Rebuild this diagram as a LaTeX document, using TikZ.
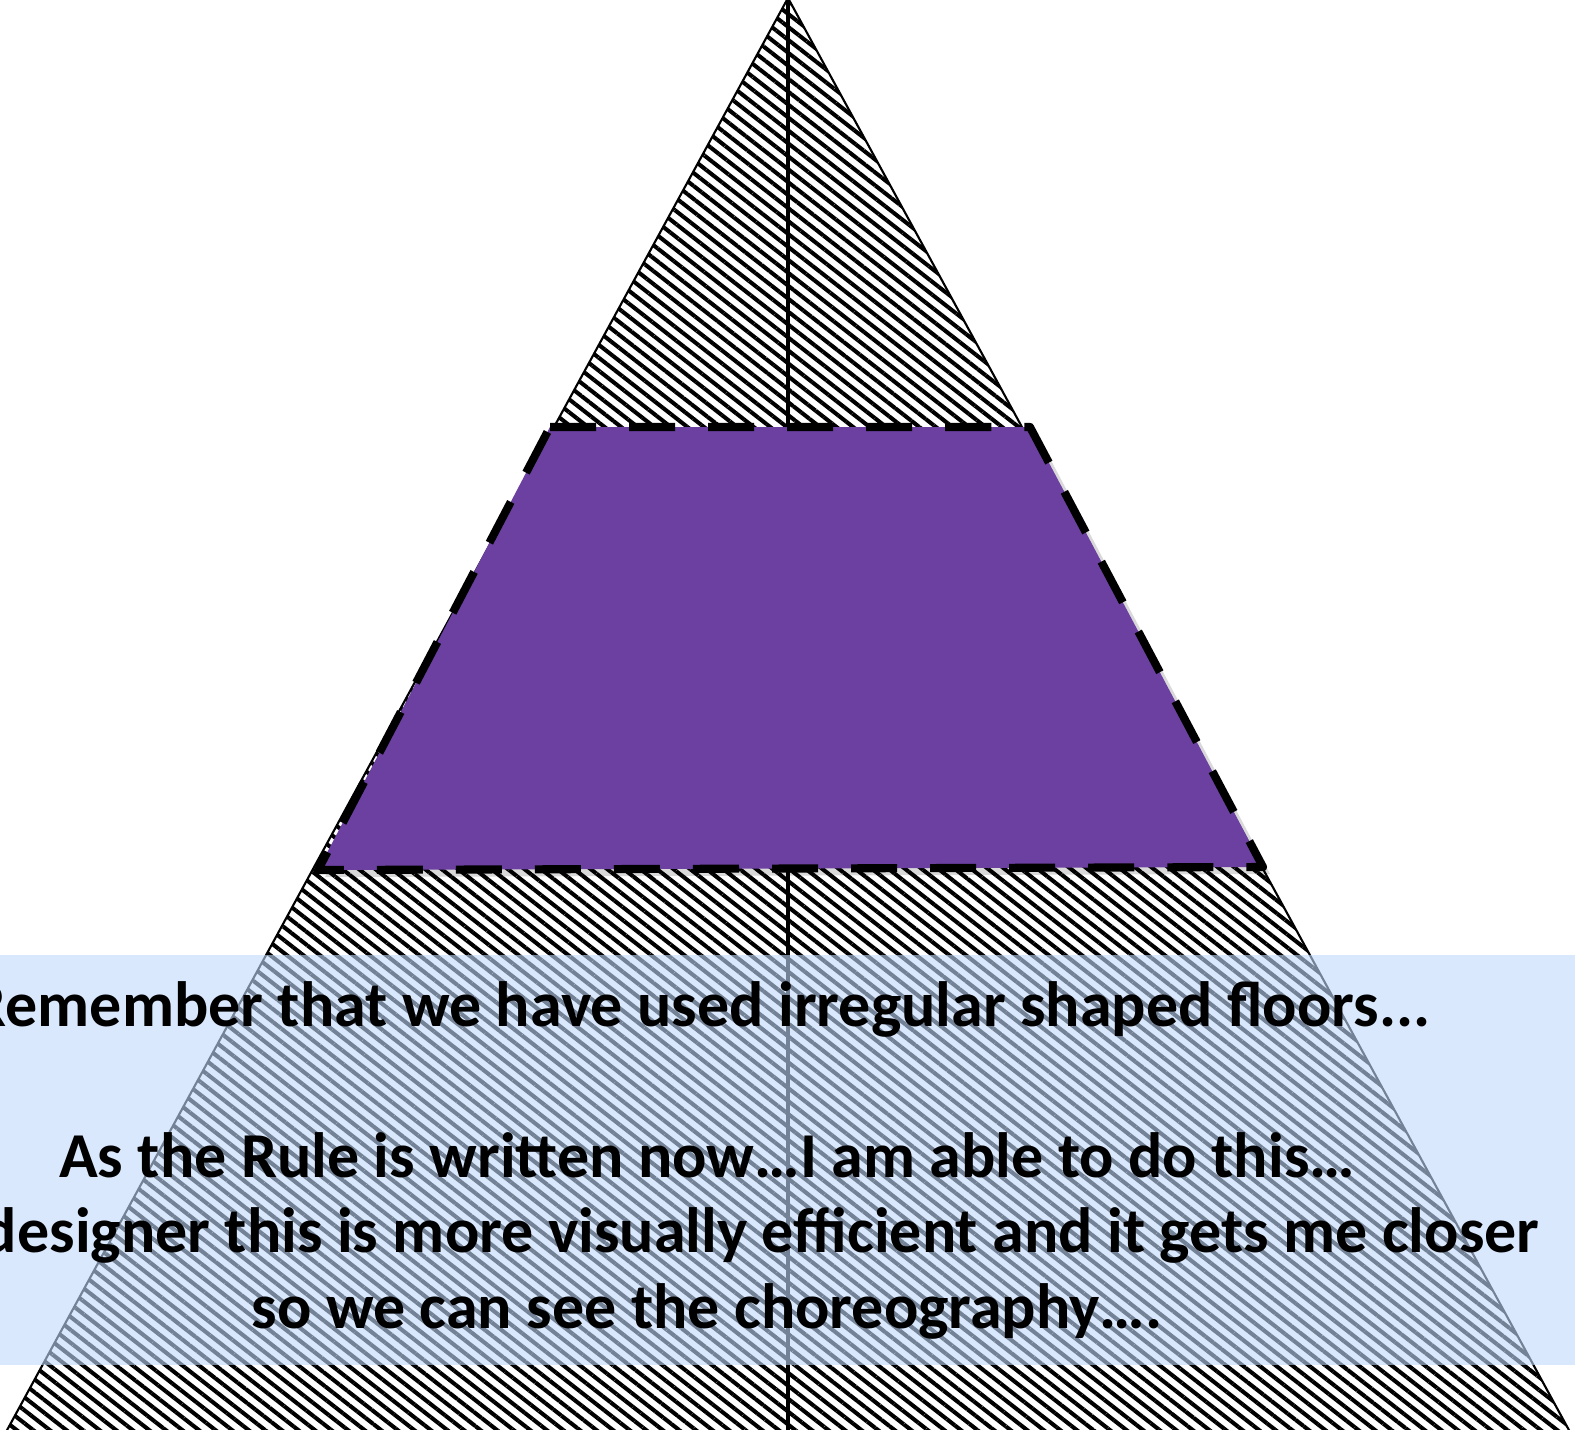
\documentclass[tikz,border=0pt]{standalone}
\usepackage{fontspec}
\setmainfont{Carlito}
\usetikzlibrary{patterns.meta,shadows}
\definecolor{trapurple}{RGB}{107,64,160}
\definecolor{bandblue}{RGB}{193,217,250}
\begin{document}
\begin{tikzpicture}[x=0.01cm,y=-0.01cm,
  hatch/.style={pattern={Lines[angle=-38,distance=2.9pt,line width=1.15pt]},pattern color=black},
  edge/.style={line width=0.6pt,black},
  trapstyle/.style={fill=trapurple,draw=black,line width=2.3pt,line join=round,
    dash pattern=on 0.46cm off 0.33cm,
    drop shadow={shadow xshift=2pt,shadow yshift=-2pt,opacity=0.15,fill=black}},
  band/.style={fill=bandblue,opacity=0.6},
  txt/.style={font=\fontsize{18.2}{22}\selectfont\bfseries,text=black,inner sep=0pt}]
\useasboundingbox (0,0) rectangle (1575,1430);
\clip (0,0) rectangle (1575,1430);
\fill[white] (0,0) rectangle (1575,1430);
\coordinate (apex) at (788,-2);
\coordinate (bl) at (6,1432);
\coordinate (br) at (1570,1432);
\coordinate (vtop) at (788,0);
\coordinate (vbot) at (788,1432);
\path[hatch] (apex) -- (bl) -- (br) -- cycle;
\draw[edge] (apex) -- (bl) -- (br) -- cycle;
\draw[line width=0.9pt] (vtop) -- (vbot);
\coordinate (tl) at (550,427);
\coordinate (tr) at (1030,427);
\coordinate (rb) at (1263,867);
\coordinate (lb) at (318,870);
\path[trapstyle] (tl) -- (tr) -- (rb) -- (lb) -- cycle;
\path[band] (0,955) rectangle (1575,1365);
\node[txt,anchor=base east] (t1) at (1431,1026) {Remember that we have used irregular shaped floors...};
\node[txt,anchor=base] (t2) at (707,1177) {As the Rule is written now…I am able to do this…};
\node[txt,anchor=base east] (t3) at (1540,1252) {designer this is more visually efficient and it gets me closer};
\node[txt,anchor=base] (t4) at (707,1328) {so we can see the choreography….};
\end{tikzpicture}
\end{document}
